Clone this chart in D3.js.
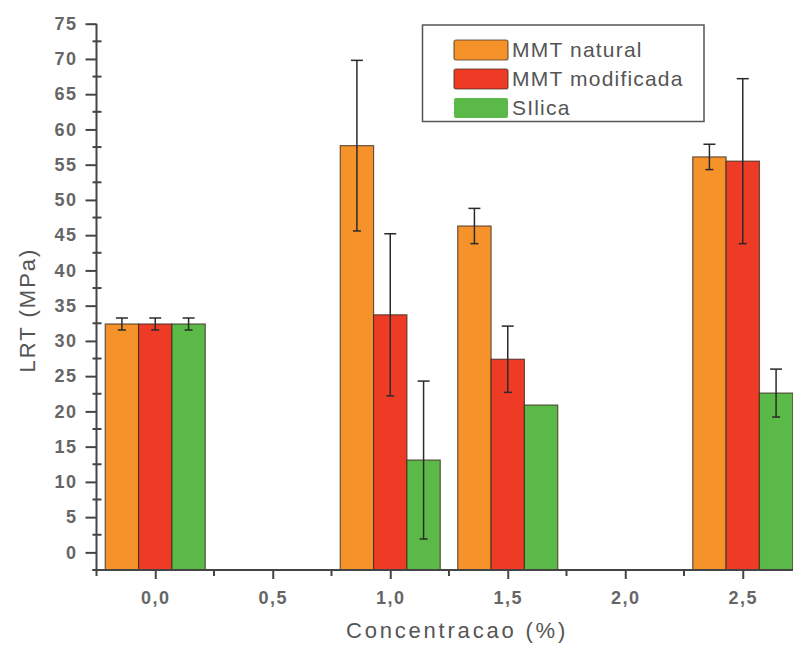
<!DOCTYPE html>
<html>
<head>
<meta charset="utf-8">
<script src="https://cdn.jsdelivr.net/npm/d3@7"></script>
<style>
  body{margin:0;background:#fff;}
  svg{display:block;}
  text{font-family:"Liberation Sans", Arial, sans-serif;}
</style>
</head>
<body>
<svg id="chart"></svg>
<script>
// data
const concentrations = [0.0, 1.0, 1.5, 2.5];
const series = ["MMT natural", "MMT modificada", "SIlica"];
const mmtNatural      = [32.4, 57.7, 46.3, 56.1];
const mmtNaturalErr   = [0.85, 12.1, 2.5, 1.8];
const mmtModificada   = [32.4, 33.7, 27.4, 55.5];
const mmtModificadaErr= [0.85, 11.5, 4.7, 11.7];
const silica          = [32.4, 13.1, 20.9, 22.6];
const silicaErr       = [0.85, 11.2, 0, 3.4];
const xTicks = [0, 0.5, 1.0, 1.5, 2.0, 2.5];
const yTicks = [0,5,10,15,20,25,30,35,40,45,50,55,60,65,70,75];

const COLORS = ["#F5932A", "#EE3B26", "#5BBA47"];
const W = 793, H = 650;

function set_size(selector, width, height){
  return selector.attr("width", width).attr("height", height);
}

const svg = d3.select("#chart").call(set_size, W, H);

const x = d3.scaleLinear().domain([-0.25, 2.75]).range([96.5, 801.5]);
const y = d3.scaleLinear().domain([-2.5, 75]).range([570, 23.7]);

const values = [mmtNatural, mmtModificada, silica];
const errs = [mmtNaturalErr, mmtModificadaErr, silicaErr];

// bar offsets inside a group
const GROUP_W = 100;
const inner = d3.scaleBand().domain(series).range([-GROUP_W/2, GROUP_W/2]);

const rows = [];
series.forEach((s, si) => {
  concentrations.forEach((c, ci) => {
    rows.push({s: s, si: si, c: c, v: values[si][ci], e: errs[si][ci]});
  });
});

// bars
svg.append("g").attr("class", "bars")
  .selectAll("rect")
  .data(rows)
  .enter().append("rect")
    .attr("x", d => x(d.c) + inner(d.s))
    .attr("y", d => y(d.v))
    .attr("width", inner.bandwidth())
    .attr("height", d => y(-2.5) - y(d.v))
    .attr("fill", d => COLORS[d.si])
    .attr("stroke", "#3a2a20")
    .attr("stroke-opacity", 0.75)
    .attr("stroke-width", 1.2);

// error bars
const CAP = 6;
const eb = svg.append("g").attr("class", "errors")
  .selectAll("g")
  .data(rows.filter(d => d.e > 0))
  .enter().append("g")
    .attr("stroke", "#2a2a2a")
    .attr("stroke-width", 1.5);
eb.append("line")
  .attr("x1", d => x(d.c) + inner(d.s) + inner.bandwidth()/2)
  .attr("x2", d => x(d.c) + inner(d.s) + inner.bandwidth()/2)
  .attr("y1", d => y(d.v + d.e))
  .attr("y2", d => y(d.v - d.e));
eb.append("line")
  .attr("x1", d => x(d.c) + inner(d.s) + inner.bandwidth()/2 - CAP)
  .attr("x2", d => x(d.c) + inner(d.s) + inner.bandwidth()/2 + CAP)
  .attr("y1", d => y(d.v + d.e))
  .attr("y2", d => y(d.v + d.e));
eb.append("line")
  .attr("x1", d => x(d.c) + inner(d.s) + inner.bandwidth()/2 - CAP + 2)
  .attr("x2", d => x(d.c) + inner(d.s) + inner.bandwidth()/2 + CAP - 2)
  .attr("y1", d => y(d.v - d.e))
  .attr("y2", d => y(d.v - d.e));

// y axis
const yAxis = svg.append("g")
  .attr("transform", "translate(" + x(-0.25) + ",0)")
  .call(d3.axisLeft(y).tickValues(yTicks).tickSize(11).tickPadding(8)
        .tickFormat(d3.format("d")));
yAxis.select(".domain").remove();
yAxis.append("line")
  .attr("x1", 0).attr("x2", 0)
  .attr("y1", y(75)).attr("y2", y(-2.5))
  .attr("stroke", "#444").attr("stroke-width", 2);
yAxis.selectAll(".tick line").attr("stroke", "#444").attr("stroke-width", 2);
yAxis.selectAll(".tick text")
  .attr("fill", "#666")
  .style("font-size", "18px")
  .style("font-weight", "bold")
  .style("letter-spacing", "1.5px");
yAxis.selectAll("line.minor")
  .data(d3.range(-2.5, 75, 5))
  .enter().append("line")
    .attr("class", "minor")
    .attr("x1", -4).attr("x2", 5)
    .attr("y1", d => y(d)).attr("y2", d => y(d))
    .attr("stroke", "#444").attr("stroke-width", 2);

// x axis
const xAxis = svg.append("g")
  .attr("transform", "translate(0," + y(-2.5) + ")")
  .call(d3.axisBottom(x).tickValues(xTicks).tickSize(9).tickPadding(12)
        .tickFormat(d => d3.format(".1f")(d).replace(".", ",")));
xAxis.select(".domain").remove();
xAxis.append("line")
  .attr("x1", x(-0.25) - 4).attr("x2", x(2.75))
  .attr("y1", 0).attr("y2", 0)
  .attr("stroke", "#444").attr("stroke-width", 2);
xAxis.selectAll(".tick line").attr("stroke", "#444").attr("stroke-width", 2);
xAxis.selectAll(".tick text")
  .attr("fill", "#666")
  .style("font-size", "18px")
  .style("font-weight", "bold")
  .style("letter-spacing", "1.5px");
xAxis.selectAll("line.minor")
  .data(d3.range(-0.25, 2.8, 0.5))
  .enter().append("line")
    .attr("class", "minor")
    .attr("x1", d => x(d)).attr("x2", d => x(d))
    .attr("y1", 0).attr("y2", 6)
    .attr("stroke", "#444").attr("stroke-width", 2);

// axis titles
svg.append("text")
  .attr("transform", "translate(35,310) rotate(-90)")
  .attr("text-anchor", "middle")
  .attr("fill", "#555")
  .style("font-size", "22px")
  .style("letter-spacing", "2px")
  .text("LRT (MPa)");

svg.append("text")
  .attr("x", 457).attr("y", 638)
  .attr("text-anchor", "middle")
  .attr("fill", "#555")
  .style("font-size", "22px")
  .style("letter-spacing", "2.8px")
  .text("Concentracao (%)");

// legend
const legend = svg.append("g").attr("class", "legend");
legend.append("rect")
  .attr("x", 422.5).attr("y", 25)
  .call(set_size, 281.5, 96.5)
  .attr("fill", "#fff")
  .attr("stroke", "#555")
  .attr("stroke-width", 1.5);
const item = legend.selectAll("g.item")
  .data(series)
  .enter().append("g")
    .attr("class", "item")
    .attr("transform", (d, i) => "translate(454," + (40 + i * 29) + ")");
item.append("rect")
  .call(set_size, 54, 20)
  .attr("rx", 2)
  .attr("fill", (d, i) => COLORS[i])
  .attr("stroke", (d, i) => i === 2 ? "none" : "#3a2a20")
  .attr("stroke-opacity", 0.7)
  .attr("stroke-width", 1.2);
item.append("text")
  .attr("x", 58).attr("y", 17)
  .attr("fill", "#555")
  .style("font-size", "21px")
  .style("letter-spacing", "1.2px")
  .text(d => d);
</script>
</body>
</html>
